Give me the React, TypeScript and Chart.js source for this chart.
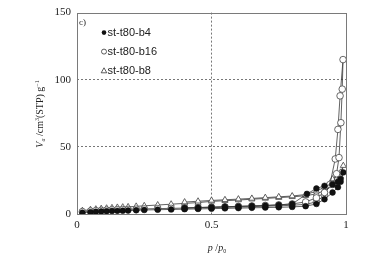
import React, { useEffect, useRef } from "react";
import { Chart, registerables } from "chart.js";

Chart.register(...registerables);

// st-t80-b4 (filled circles)
const b4AdsP = [0.02, 0.05, 0.07, 0.09, 0.11, 0.13, 0.15, 0.17, 0.19, 0.22, 0.25, 0.30, 0.35, 0.40, 0.45, 0.50, 0.55, 0.60, 0.65, 0.70, 0.75, 0.80, 0.85, 0.89, 0.92, 0.95, 0.97, 0.98, 0.99];
const b4AdsV = [1.0, 1.4, 1.7, 1.9, 2.1, 2.3, 2.4, 2.5, 2.6, 2.8, 3.0, 3.2, 3.4, 3.6, 3.8, 4.0, 4.2, 4.4, 4.6, 4.8, 5.0, 5.3, 5.8, 7.5, 11, 16, 20, 24, 31];
const b4DesP = [0.98, 0.97, 0.95, 0.92, 0.89, 0.855, 0.80, 0.75, 0.70, 0.65, 0.60, 0.55, 0.50, 0.45, 0.40];
const b4DesV = [26, 24, 22, 21, 19, 15, 7.5, 6.8, 6.3, 6.0, 5.7, 5.4, 5.1, 4.8, 4.5];

// st-t80-b16 (open circles)
const b16AdsP = [0.02, 0.05, 0.07, 0.09, 0.11, 0.13, 0.15, 0.17, 0.19, 0.22, 0.25, 0.30, 0.35, 0.40, 0.45, 0.50, 0.55, 0.60, 0.65, 0.70, 0.75, 0.80, 0.85, 0.89, 0.92, 0.94, 0.96, 0.97, 0.978, 0.989];
const b16AdsV = [1.8, 2.2, 2.5, 2.7, 2.9, 3.1, 3.2, 3.3, 3.4, 3.6, 3.8, 4.0, 4.2, 4.4, 4.6, 4.8, 5.0, 5.2, 5.5, 5.8, 6.1, 6.5, 7.2, 9.0, 14, 22, 41, 63, 88, 115];
const b16DesP = [0.986, 0.981, 0.974, 0.965, 0.95, 0.92, 0.89, 0.85, 0.80, 0.75, 0.70, 0.65, 0.60, 0.55, 0.50, 0.45, 0.40];
const b16DesV = [93, 68, 42, 30, 22, 16, 12, 9, 7.5, 6.8, 6.4, 6.0, 5.7, 5.4, 5.1, 4.8, 4.5];

// st-t80-b8 (open triangles)
const b8AdsP = [0.02, 0.05, 0.07, 0.09, 0.11, 0.13, 0.15, 0.17, 0.19, 0.22, 0.25, 0.30, 0.35, 0.40, 0.45, 0.50, 0.55, 0.60, 0.65, 0.70, 0.75, 0.80, 0.85, 0.89, 0.92, 0.95, 0.97, 0.98, 0.99];
const b8AdsV = [2.5, 3.2, 3.6, 4.0, 4.3, 4.6, 4.9, 5.1, 5.3, 5.7, 6.1, 6.7, 7.3, 7.9, 8.5, 9.4, 9.9, 10.4, 11.0, 11.6, 12.2, 12.8, 13.6, 15.0, 17.5, 21.5, 25.0, 28.0, 36.0];
const b8DesP = [0.98, 0.97, 0.95, 0.92, 0.89, 0.85, 0.80, 0.75, 0.70, 0.65, 0.60, 0.55, 0.50, 0.45, 0.40];
const b8DesV = [31, 29, 26, 20, 17, 14.5, 13.4, 12.8, 12.2, 11.6, 11.1, 10.6, 10.1, 9.5, 8.9];

const seriesLabels = ["st-t80-b4", "st-t80-b16", "st-t80-b8"];
const xTicks = [0, 0.5, 1];
const yTicks = [0, 50, 100, 150];
const panelLabel = "c)";

function loop(ap: number[], av: number[], dp: number[], dv: number[]) {
  const pts = ap.map((x, i) => ({ x, y: av[i] }));
  return pts.concat(dp.map((x, i) => ({ x, y: dv[i] })));
}

const SERIF = '"Liberation Serif", "Times New Roman", serif';
const SANS = '"Liberation Sans", Arial, sans-serif';

function drawPieces(ctx: CanvasRenderingContext2D, cx: number, cy: number, pieces: { t: string; f: string; dy: number }[]) {
  let w = 0;
  for (const p of pieces) {
    ctx.font = p.f;
    w += ctx.measureText(p.t).width;
  }
  let x = cx - w / 2;
  for (const p of pieces) {
    ctx.font = p.f;
    ctx.fillText(p.t, x, cy + p.dy);
    x += ctx.measureText(p.t).width;
  }
}

const decorPlugin = {
  id: "decor",
  afterDraw(chart: any) {
    const ctx: CanvasRenderingContext2D = chart.ctx;
    const { left, right, top, bottom } = chart.chartArea;
    ctx.save();
    // frame
    ctx.strokeStyle = "#7a7a7a";
    ctx.lineWidth = 1;
    ctx.strokeRect(Math.round(left) + 0.5, Math.round(top) + 0.5, Math.round(right - left), Math.round(bottom - top));

    ctx.fillStyle = "#222";
    ctx.textBaseline = "middle";
    ctx.textAlign = "left";
    // panel label
    ctx.font = `9px ${SERIF}`;
    ctx.fillText(panelLabel, left + 2, top + 10);

    // legend
    const ys = [top + 20, top + 39, top + 58];
    const mx = left + 27;
    chart.data.datasets.forEach((ds: any, i: number) => {
      const y = ys[i];
      ctx.lineWidth = 0.8;
      ctx.strokeStyle = "#333";
      if (i === 0) {
        ctx.fillStyle = "#111";
        ctx.beginPath();
        ctx.arc(mx, y, 2.3, 0, Math.PI * 2);
        ctx.fill();
      } else if (i === 1) {
        ctx.beginPath();
        ctx.arc(mx, y, 2.5, 0, Math.PI * 2);
        ctx.stroke();
      } else {
        ctx.beginPath();
        ctx.moveTo(mx, y - 2.8);
        ctx.lineTo(mx + 2.8, y + 2.2);
        ctx.lineTo(mx - 2.8, y + 2.2);
        ctx.closePath();
        ctx.stroke();
      }
      ctx.fillStyle = "#222";
      ctx.font = `11px ${SANS}`;
      ctx.fillText(ds.label, mx + 3.5, y);
    });

    // x title
    ctx.textBaseline = "alphabetic";
    drawPieces(ctx, 217, 251, [
      { t: "p", f: `italic 10px ${SERIF}`, dy: 0 },
      { t: " /", f: `10px ${SERIF}`, dy: 0 },
      { t: "p", f: `italic 10px ${SERIF}`, dy: 0 },
      { t: "0", f: `6px ${SERIF}`, dy: 2 },
    ]);

    // y title
    ctx.translate(43, 114);
    ctx.rotate(-Math.PI / 2);
    drawPieces(ctx, 0, 0, [
      { t: "V", f: `italic 10px ${SERIF}`, dy: 0 },
      { t: "a", f: `italic 6px ${SERIF}`, dy: 2 },
      { t: " /cm", f: `10px ${SERIF}`, dy: 0 },
      { t: "3", f: `6px ${SERIF}`, dy: -4 },
      { t: "(STP) g", f: `10px ${SERIF}`, dy: 0 },
      { t: "\u22121", f: `6px ${SERIF}`, dy: -4 },
    ]);
    ctx.restore();
  },
};

export default function App() {
  const ref = useRef<HTMLCanvasElement | null>(null);
  useEffect(() => {
    document.body.style.margin = "0";
    const canvas = ref.current;
    if (!canvas) return;
    const lineColor = "#3a3a3a";
    const chart = new Chart(canvas, {
      type: "scatter",
      data: {
        datasets: [
          {
            label: seriesLabels[0],
            data: loop(b4AdsP, b4AdsV, b4DesP, b4DesV),
            showLine: true,
            borderColor: lineColor,
            borderWidth: 0.8,
            pointStyle: "circle",
            pointRadius: 2.9,
            pointBackgroundColor: "#111",
            pointBorderColor: "#111",
            pointBorderWidth: 0.5,
          },
          {
            label: seriesLabels[1],
            data: loop(b16AdsP, b16AdsV, b16DesP, b16DesV),
            showLine: true,
            borderColor: lineColor,
            borderWidth: 0.8,
            pointStyle: "circle",
            pointRadius: 3.3,
            pointBackgroundColor: "#fff",
            pointBorderColor: "#444",
            pointBorderWidth: 0.8,
          },
          {
            label: seriesLabels[2],
            data: loop(b8AdsP, b8AdsV, b8DesP, b8DesV),
            showLine: true,
            borderColor: lineColor,
            borderWidth: 0.8,
            pointStyle: "triangle",
            pointRadius: 3.5,
            pointBackgroundColor: "#fff",
            pointBorderColor: "#444",
            pointBorderWidth: 0.8,
          },
        ],
      },
      options: {
        animation: false,
        responsive: false,
        maintainAspectRatio: false,
        events: [],
        layout: { padding: { top: 5, right: 36, left: 0, bottom: 0 } },
        plugins: { legend: { display: false }, tooltip: { enabled: false } },
        scales: {
          x: {
            type: "linear",
            min: 0,
            max: 1,
            afterBuildTicks: (axis: any) => {
              axis.ticks = xTicks.map((v) => ({ value: v }));
            },
            afterFit: (axis: any) => {
              axis.height = 44;
            },
            ticks: {
              padding: 5,
              color: "#222",
              font: { family: SERIF, size: 11 },
              maxRotation: 0,
              callback: (v: any) => String(v),
            },
            grid: {
              drawTicks: false,
              color: (c: any) => (c.tick && c.tick.value === 0.5 ? "#777" : "rgba(0,0,0,0)"),
              lineWidth: 1,
            },
            border: { display: false, dash: [2, 2] },
          },
          y: {
            type: "linear",
            min: 0,
            max: 150,
            afterBuildTicks: (axis: any) => {
              axis.ticks = yTicks.map((v) => ({ value: v }));
            },
            afterFit: (axis: any) => {
              axis.width = 77;
            },
            ticks: {
              padding: 6,
              color: "#222",
              font: { family: SERIF, size: 11 },
              callback: (v: any) => String(v),
            },
            grid: {
              drawTicks: false,
              color: (c: any) => (c.tick && (c.tick.value === 50 || c.tick.value === 100) ? "#777" : "rgba(0,0,0,0)"),
              lineWidth: 1,
            },
            border: { display: false, dash: [2, 2] },
          },
        },
      },
      plugins: [decorPlugin],
    } as any);
    return () => chart.destroy();
  }, []);
  return (
    <div style={{ width: 382, height: 258, background: "#fff" }}>
      <canvas ref={ref} width={382} height={258} style={{ display: "block" }} />
    </div>
  );
}
